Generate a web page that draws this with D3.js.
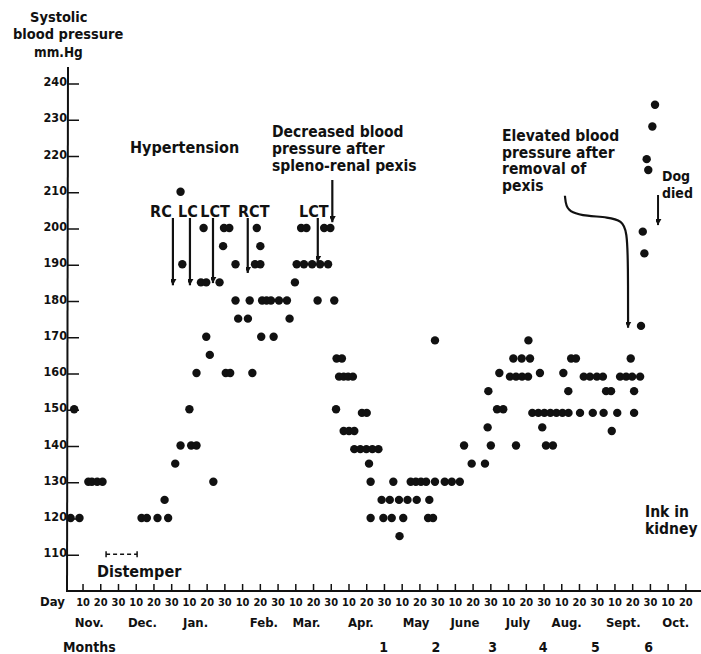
<!DOCTYPE html>
<html>
<head>
<meta charset="utf-8">
<script src="https://cdn.jsdelivr.net/npm/d3@7"></script>
<style>
  body { margin: 0; background: #fff; }
  text { font-family: "DejaVu Sans Condensed", "DejaVu Sans", sans-serif; font-weight: bold; fill: #111; }
</style>
</head>
<body>
<div id="graph"></div>
<script>
// days are counted from Nov 1, every month on the chart is 30 days wide
var obsDay = [5, 3, 8, 13, 15, 18, 21,
  43, 46, 52, 58, 56,
  62, 65, 66, 65, 70, 71, 74, 74, 76.5, 79.5, 78, 79.5, 81.5, 83.5, 87, 89, 89.5, 92.5, 90.5, 93, 96, 96, 97.5,
  103, 104, 105.5, 107, 110, 108, 110, 110.5, 111, 113.5, 116, 117.5, 120.5, 125, 126.5,
  129.5, 133, 136, 146, 149.5, 130.5, 134.6, 139.2, 143.7, 148.2, 142.3, 151.7,
  153, 156, 154.4, 157, 159.5, 162.2, 152.7, 167.3, 170, 157, 160, 163, 163, 166.4, 169.8, 173.2, 176.6, 171.3, 172.2, 172.2, 178.4,
  179.4, 184.1, 183, 185, 188.2, 188.5, 190.6, 193, 194.8, 197.7, 200.6, 203.5, 198.2, 204.6, 207.4, 205.3, 208.5, 208.5,
  214, 218, 222.5, 224.9, 229.2, 236.7, 238.2, 238.6, 240,
  243.5, 247, 244.8, 250.8, 254.2, 257.6, 261, 252.7, 257.4, 262.1, 261.2, 254.2, 267.7, 269,
  263.4, 266.8, 270.2, 273.6, 277, 280.4, 283.8,
  271.1, 275, 280.9, 283.7, 285.3, 288, 290.3, 292.4, 295.9, 299.8, 303.2, 297.5,
  303.6, 305, 307.8, 308.2, 311.3, 312.9, 316.3, 319.7, 324.2, 318.9, 320.8, 320.8,
  324.7, 325.7, 326.6, 327.9, 328.8, 331.1, 332.6];
var obsBP = [150, 120, 120, 130, 130, 130, 130,
  120, 120, 120, 120, 125,
  135, 140, 190, 210, 150, 140, 140, 160, 185, 185, 200, 170, 165, 130, 185, 195, 200, 200, 160, 160, 190, 180, 175,
  175, 180, 160, 190, 190, 200, 195, 170, 180, 180, 180, 170, 180, 180, 175,
  185, 200, 200, 200, 200, 190, 190, 190, 190, 190, 180, 180,
  164, 164, 159, 159, 159, 159, 150, 149, 149, 144, 144, 144, 139, 139, 139, 139, 139, 135, 130, 120, 125,
  120, 120, 125, 130, 125, 115, 120, 125, 130, 130, 130, 130, 125, 120, 120, 125, 130, 169,
  130, 130, 130, 140, 135, 135, 145, 155, 140,
  150, 150, 160, 159, 159, 159, 159, 164, 164, 164, 169, 140, 160, 145,
  149, 149, 149, 149, 149, 149, 149,
  140, 140, 160, 155, 164, 164, 149, 159, 159, 159, 159, 149,
  149, 155, 155, 144, 149, 159, 159, 159, 159, 164, 155, 149,
  173, 199, 193, 219, 216, 228, 234];

var bpTicks = d3.range(110, 250, 10);
var dayTicks = d3.range(10, 360, 10);
var monthNames = ["Nov.", "Dec.", "Jan.", "Feb.", "Mar.", "Apr.", "May", "June", "July", "Aug.", "Sept.", "Oct."];
var monthLabelDay = [13.5, 43.5, 73.5, 112, 136, 166.7, 197.8, 225.4, 255.3, 282.8, 314.7, 344.3];
var monthsAfter = [1, 2, 3, 4, 5, 6];
var monthsAfterDay = [179.5, 209, 241, 269.5, 299, 329];

var surgeryLabels = ["RC", "LC", "LCT", "RCT", "LCT"];
var surgeryDays = [60.7, 70.3, 83.3, 102.9, 142.4];
var surgeryTips = [184.2, 184.2, 184.8, 187.6, 190.6];
var distemper = [23, 40.5];

var W = 701, H = 654;
var svg = d3.select("#graph").append("svg")
    .attr("width", W)
    .attr("height", H);

var x = d3.scaleLinear().domain([0, 360]).range([65.3, 703.6]);
var y = d3.scaleLinear().domain([100, 240]).range([590.5, 83]);

// arrow head
svg.append("defs").append("marker")
    .attr("id", "head")
    .attr("viewBox", "-6 -10 12 12")
    .attr("refX", 0).attr("refY", 0)
    .attr("markerWidth", 12).attr("markerHeight", 12)
    .attr("markerUnits", "userSpaceOnUse")
    .attr("orient", "auto-start-reverse")
  .append("path")
    .attr("d", "M-5,-9 L0,0 L5,-9 L0,-6 Z")
    .attr("transform", "rotate(-90)")
    .attr("fill", "#111");

// Y axis
svg.append("line")
    .attr("x1", 68).attr("x2", 67)
    .attr("y1", 67).attr("y2", 592)
    .attr("stroke", "#111").attr("stroke-width", 2);
svg.selectAll(".ytick").data(bpTicks).enter().append("line")
    .attr("x1", 68).attr("x2", 79)
    .attr("y1", function(d) { return y(d) + 1; })
    .attr("y2", function(d) { return y(d) + 1; })
    .attr("stroke", "#111").attr("stroke-width", 1.5);
svg.selectAll(".ylab").data(bpTicks).enter().append("text")
    .attr("x", 67).attr("y", function(d) { return y(d) + 3; })
    .attr("text-anchor", "end")
    .style("font-size", "12.5px")
    .text(function(d) { return d; });

// X axis
svg.append("line")
    .attr("x1", 66).attr("x2", 701)
    .attr("y1", 591).attr("y2", 591)
    .attr("stroke", "#111").attr("stroke-width", 2);
svg.selectAll(".xtick").data(dayTicks).enter().append("line")
    .attr("x1", function(d) { return x(d); })
    .attr("x2", function(d) { return x(d); })
    .attr("y1", 584).attr("y2", 591)
    .attr("stroke", "#111").attr("stroke-width", 1.5);
svg.selectAll(".xlab").data(dayTicks).enter().append("text")
    .attr("x", function(d) { return x(d); })
    .attr("y", 606)
    .attr("text-anchor", "middle")
    .style("font-size", "11px")
    .text(function(d) { return d % 30 === 0 ? 30 : d % 30; });
svg.selectAll(".mlab").data(monthNames).enter().append("text")
    .attr("x", function(d, i) { return x(monthLabelDay[i]); })
    .attr("y", 627)
    .attr("text-anchor", "middle")
    .style("font-size", "13px")
    .text(function(d) { return d; });
svg.selectAll(".nlab").data(monthsAfter).enter().append("text")
    .attr("x", function(d, i) { return x(monthsAfterDay[i]); })
    .attr("y", 652)
    .attr("text-anchor", "middle")
    .style("font-size", "14px")
    .text(function(d) { return d; });
svg.append("text").attr("x", 40).attr("y", 606).style("font-size", "13px").text("Day");
svg.append("text").attr("x", 63).attr("y", 652).style("font-size", "14px").text("Months");

// Y title
svg.append("text").attr("x", 30).attr("y", 22).style("font-size", "14.5px").text("Systolic");
svg.append("text").attr("x", 13).attr("y", 39).style("font-size", "14.5px").text("blood pressure");
svg.append("text").attr("x", 34).attr("y", 57).style("font-size", "13.5px").text("mm.Hg");

// readings
svg.selectAll(".dot").data(obsDay).enter().append("circle")
    .attr("cx", function(d) { return x(d); })
    .attr("cy", function(d, i) { return y(obsBP[i]); })
    .attr("r", 4.2)
    .attr("fill", "#111");

// distemper period
var dy = y(110);
svg.append("line")
    .attr("x1", x(distemper[0])).attr("x2", x(distemper[1]))
    .attr("y1", dy).attr("y2", dy)
    .attr("stroke", "#111").attr("stroke-width", 1.5)
    .attr("stroke-dasharray", "4,3");
svg.selectAll(".dend").data(distemper).enter().append("line")
    .attr("x1", function(d) { return x(d); })
    .attr("x2", function(d) { return x(d); })
    .attr("y1", dy - 3).attr("y2", dy + 3)
    .attr("stroke", "#111").attr("stroke-width", 1.5);
svg.append("text").attr("x", 97).attr("y", 577).style("font-size", "16px").text("Distemper");

// surgery arrows
var labelShift = [-12, -2, 2, 6, -4];
svg.selectAll(".sarrow").data(surgeryDays).enter().append("line")
    .attr("x1", function(d) { return x(d); })
    .attr("x2", function(d) { return x(d); })
    .attr("y1", 218)
    .attr("y2", function(d, i) { return y(surgeryTips[i]); })
    .attr("stroke", "#111").attr("stroke-width", 2.2)
    .attr("marker-end", "url(#head)");
svg.selectAll(".slab").data(surgeryLabels).enter().append("text")
    .attr("x", function(d, i) { return x(surgeryDays[i]) + labelShift[i]; })
    .attr("y", 217)
    .attr("text-anchor", "middle")
    .style("font-size", "16px")
    .text(function(d) { return d; });

svg.append("text").attr("x", 130).attr("y", 153).style("font-size", "16px").text("Hypertension");

// notes written over several lines
function lines(arr, x0, y0, step, size) {
  arr.forEach(function(s, i) {
    svg.append("text").attr("x", x0).attr("y", y0 + i * step).style("font-size", size).text(s);
  });
}
lines(["Decreased blood", "pressure after", "spleno-renal pexis"], 272, 137, 17, "15.5px");
svg.append("line")
    .attr("x1", x(150.6)).attr("x2", x(150.6))
    .attr("y1", 180).attr("y2", y(201.6))
    .attr("stroke", "#111").attr("stroke-width", 2.2)
    .attr("marker-end", "url(#head)");

lines(["Elevated blood", "pressure after", "removal of", "pexis"], 502, 141, 16.5, "15.5px");
var curve = [[281.8, 208.9], [282.3, 206], [285.5, 204.2], [294, 203.3], [306, 203], [314, 202], [316.8, 199], [317.4, 190], [317.4, 172.5]];
svg.append("path")
    .attr("d", d3.line().x(function(d) { return x(d[0]); }).y(function(d) { return y(d[1]); }).curve(d3.curveBasis)(curve))
    .attr("fill", "none")
    .attr("stroke", "#111").attr("stroke-width", 2.2)
    .attr("marker-end", "url(#head)");

lines(["Dog", "died"], 662, 181, 17, "14px");
svg.append("line")
    .attr("x1", x(334.3)).attr("x2", x(334.3))
    .attr("y1", 195).attr("y2", y(200.8))
    .attr("stroke", "#111").attr("stroke-width", 2)
    .attr("marker-end", "url(#head)");

lines(["Ink in", "kidney"], 645, 517, 17, "15.5px");
</script>
</body>
</html>
